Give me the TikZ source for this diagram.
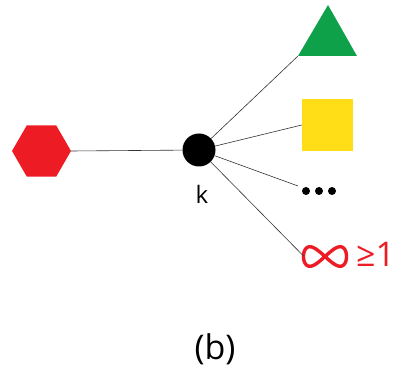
\documentclass[tikz,border=0pt]{standalone}
\usepackage{fontspec}
\setmainfont{Open Sans}
\usetikzlibrary{shapes.geometric}
\definecolor{hexred}{HTML}{ED1C24}
\definecolor{trigreen}{HTML}{0FA04A}
\definecolor{sqyellow}{HTML}{FFDD17}
\begin{document}
\begin{tikzpicture}[x=1pt,y=-1pt,
  link/.style={draw=black!80,line width=0.6pt},
  dotmark/.style={circle,fill=black,inner sep=0pt,minimum size=8pt}]
\useasboundingbox (0,0) rectangle (394,371);
% red hexagon, flat top and bottom
\node[regular polygon,regular polygon sides=6,fill=hexred,
  inner sep=0pt,minimum size=59pt] (hex) at (41.5,151) {};
% central black node and its label
\node[circle,fill=black,inner sep=0pt,minimum size=33pt] (core) at (199,150) {};
\node[font=\fontsize{24}{24}\selectfont] (klabel) at (202,194) {k};
% green triangle
\fill[trigreen] (298,56) coordinate (triL) -- (328,5) -- (357,56) -- cycle;
% yellow square
\node[fill=sqyellow,minimum width=51pt,minimum height=52pt,inner sep=0pt] (sq) at (327.5,125) {};
% three dots
\node[dotmark] (d1) at (306,191) {};
\node[dotmark] (d2) at (319,191) {};
\node[dotmark] (d3) at (332,191) {};
\coordinate (dotsend) at (298,186);
% infinity drawn as a figure-eight curve, then >=1
\draw[hexred,line width=3.4pt,domain=0:360,samples=120,smooth]
  plot ({325+21.5*cos(\x)},{256.5+19.5*sin(\x)*cos(\x)});
\coordinate (infend) at (303.5,256);
\node[text=hexred,font=\fontsize{34}{34}\selectfont,inner sep=0pt,anchor=base west] (geone) at (356,267) {≥1};
% connectors
\draw[link] (hex.east) -- (core);
\draw[link] (core) -- (triL);
\draw[link] (core) -- (sq.west);
\draw[link] (core) -- (dotsend);
\draw[link] (core) -- (infend);
% caption
\node[font=\fontsize{34}{34}\selectfont] (cap) at (215,349) {(b)};
\end{tikzpicture}
\end{document}
